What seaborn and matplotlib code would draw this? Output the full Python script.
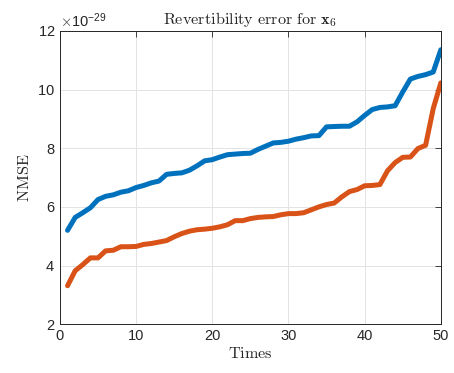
import matplotlib
matplotlib.use("Agg")
from matplotlib import pyplot as plt
import seaborn as sns
import pandas as pd
import numpy as np

# values (units of 1e-29)
times = list(range(1, 51))
blue_vals = [5.20, 5.64, 5.80, 5.97, 6.25, 6.36, 6.41, 6.50, 6.55, 6.66,
             6.73, 6.82, 6.88, 7.11, 7.14, 7.16, 7.25, 7.40, 7.57, 7.61,
             7.70, 7.78, 7.80, 7.82, 7.83, 7.96, 8.07, 8.18, 8.20, 8.24,
             8.31, 8.36, 8.42, 8.43, 8.73, 8.74, 8.75, 8.75, 8.90, 9.12,
             9.32, 9.39, 9.41, 9.45, 9.92, 10.36, 10.45, 10.51, 10.60, 11.36]
orange_vals = [3.31, 3.82, 4.03, 4.26, 4.26, 4.50, 4.52, 4.64, 4.64, 4.65,
               4.72, 4.75, 4.80, 4.85, 4.98, 5.09, 5.17, 5.22, 5.24, 5.27,
               5.32, 5.39, 5.53, 5.53, 5.60, 5.64, 5.66, 5.67, 5.73, 5.77,
               5.77, 5.80, 5.90, 6.00, 6.08, 6.13, 6.34, 6.52, 6.59, 6.72,
               6.73, 6.76, 7.23, 7.51, 7.69, 7.70, 7.99, 8.10, 9.35, 10.23]
scale = 1e-29

df = pd.DataFrame({
    'time': times * 2,
    'nmse': [v * scale for v in blue_vals + orange_vals],
    'series': ['a'] * len(times) + ['b'] * len(times),
})

sns.set_style("white")
plt.rcParams['font.family'] = ['Liberation Sans', 'DejaVu Sans']
plt.rcParams['mathtext.fontset'] = 'cm'

fig = plt.figure(figsize=(4.54, 3.73), dpi=100)
ax = fig.add_axes([0.132, 0.131, 0.839, 0.786])
sns.lineplot(data=df, x='time', y='nmse', hue='series',
             palette=['#0072BD', '#D95319'], linewidth=3.6,
             legend=False, ax=ax)

ax.set_xlim(0, 50)
ax.set_ylim(2e-29, 12e-29)
ax.set_xticks([0, 10, 20, 30, 40, 50])
ax.set_yticks([v * scale for v in [2, 4, 6, 8, 10, 12]])
ax.ticklabel_format(axis='y', style='sci', scilimits=(-29, -29), useMathText=True)
ax.yaxis.get_offset_text().set_fontsize(10.5)
ax.yaxis.get_offset_text().set_color('#262626')

ax.grid(True, color='#e3e3e3', linewidth=0.7)
ax.tick_params(direction='in', length=4, labelsize=10.5, colors='#262626',
               top=True, right=True, width=0.6)
for s in ax.spines.values():
    s.set_color('#262626')
    s.set_linewidth(0.7)

ax.set_title(r'$\mathrm{Revertibility\ error\ for\ }\mathbf{x}_6$', fontsize=11.7, pad=5)
ax.set_xlabel(r'$\mathrm{Times}$', fontsize=11.7, labelpad=2)
ax.set_ylabel(r'$\mathrm{NMSE}$', fontsize=11.7, labelpad=4)

fig.savefig('out.png', dpi=100)
